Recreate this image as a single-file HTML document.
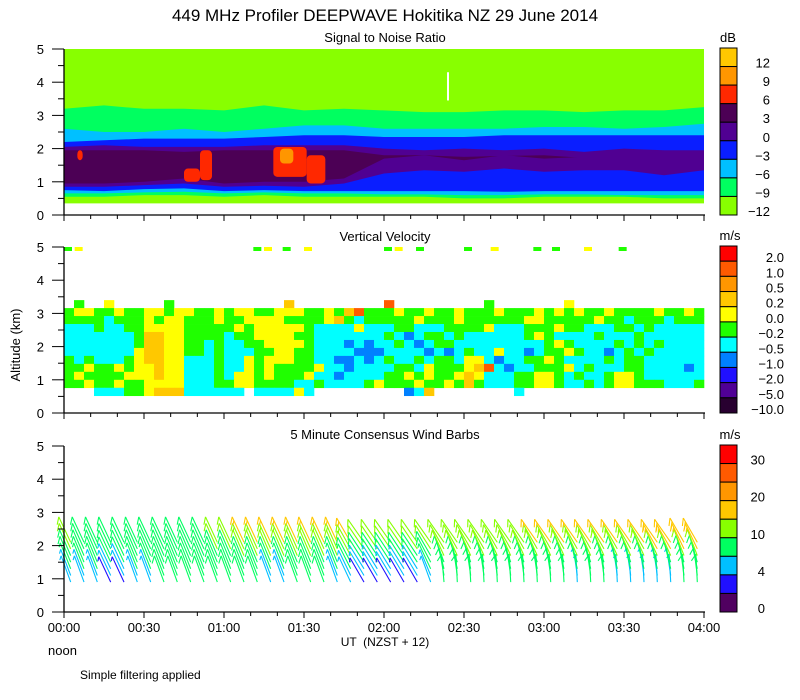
<!DOCTYPE html>
<html><head><meta charset="utf-8"><style>
html,body{margin:0;padding:0;background:#fff;}
svg{display:block;font-family:"Liberation Sans",sans-serif;}
</style></head><body>
<svg id="chart" width="800" height="700" viewBox="0 0 800 700" xmlns="http://www.w3.org/2000/svg">
<text x="385" y="21" font-size="17" text-anchor="middle" fill="#000">449 MHz Profiler DEEPWAVE Hokitika NZ 29 June 2014</text>
<text x="385" y="42" font-size="13" text-anchor="middle">Signal to Noise Ratio</text>
<text x="385" y="241" font-size="13" text-anchor="middle">Vertical Velocity</text>
<text x="385" y="439" font-size="13" text-anchor="middle">5 Minute Consensus Wind Barbs</text>
<text x="20" y="345" font-size="13" text-anchor="middle" transform="rotate(-90 20 345)">Altitude (km)</text>
<text x="385" y="646" font-size="12" text-anchor="middle" xml:space="preserve">UT  (NZST + 12)</text>
<text x="48" y="655" font-size="13">noon</text>
<text x="80" y="679" font-size="12">Simple filtering applied</text>
<g id="snr"></g>
<g id="vv"></g>
<g id="barbs"></g>
<g id="axes"></g>
<g id="cbars"></g>
</svg>
<script>
// ---------- data ----------
const snrTimes = [0,15,30,45,60,75,90,105,120,135,150,165,180,195,210,225,240];
const bLimeGreen = [0.55,0.55,0.6,0.6,0.55,0.6,0.55,0.55,0.55,0.55,0.5,0.5,0.55,0.55,0.55,0.5,0.5];
const bGreenCyan = [0.65,0.65,0.68,0.7,0.65,0.68,0.65,0.65,0.62,0.62,0.6,0.6,0.62,0.62,0.6,0.6,0.6];
const bCyanBlue = [0.75,0.72,0.78,0.8,0.72,0.75,0.72,0.72,0.72,0.72,0.72,0.7,0.72,0.72,0.72,0.72,0.72];
const bBluePurple = [0.85,0.85,0.9,0.95,0.85,0.88,0.85,0.95,1.25,1.35,1.3,1.4,1.3,1.35,1.35,1.2,1.35];
const bPurpleDark = [0.95,0.95,1.0,1.1,0.95,1.0,1.0,1.1,1.7,1.8,1.65,1.8,1.7,1.75,1.8,1.8,1.9];
const bDarkPurple = [1.95,1.95,1.95,1.9,1.95,1.95,1.95,1.95,1.8,1.8,1.75,1.78,1.8,1.72,1.75,1.78,1.85];
const bPurpleBlue = [2.05,2.1,2.05,2.05,2.05,2.1,2.1,2.1,2.0,1.95,2.0,1.95,2.0,1.9,2.0,1.95,1.95];
const bBlueCyan = [2.2,2.25,2.3,2.3,2.3,2.35,2.4,2.4,2.35,2.35,2.35,2.4,2.4,2.4,2.4,2.4,2.4];
const bCyanGreen = [2.6,2.5,2.5,2.6,2.5,2.6,2.7,2.7,2.6,2.6,2.6,2.6,2.65,2.65,2.6,2.65,2.75];
const bGreenLime = [3.2,3.3,3.2,3.2,3.15,3.3,3.15,3.2,3.15,3.1,3.1,3.15,3.15,3.1,3.15,3.15,3.25];
const blobStart = [45,51,78.5,91,81,5];
const blobEnd = [51,55.5,91,98,86,7];
const blobLow = [1.0,1.05,1.15,0.95,1.55,1.65];
const blobHigh = [1.4,1.95,2.05,1.8,2.0,1.95];
const blobLevel = [6,6,6,6,9,6];

const vvRows = [ // top (3.25-3.5) to bottom (0.5-0.75), 64 columns of 3.75 min
".g..y.....g...........O.........r.........g.......y.............",
"gyyggyggyygyyggygyyggyyyggygOrgggyggyggygggygggygygyggyggggyggyg",
"ggggcgggygyygggyggyyyyggggyOgcgggggygggyggggggyygggggyggcgggcggg",
"cccgccggyyyygggggygyyyyygccccycccggcccggggycccgggyggcccggcgccccc",
"cccccccgOOyyggggcggyyyyggcccccccgcBcggcgccccccgygccccgcccgcccccc",
"cccccccgOOyyggcgccggyyyygcccBcBccgcBcggcccccccccgygccccgcgcgcccc",
"cccccccyOOyyggcgcccggyyggccccBBBccccBcBcgccyccBcggygccBcgcgccccc",
"gcgcccgyOOyycccgccygyyyggccBBcBcgccgcggcyycBccggygccccgcggcccccc",
"ggyggygyyOyycccgccygyggggyccBccccggcygggyOrcBccgggycgcccggccccBc",
"gyggggyyyOyycccgcyygygggyccBccccggygyggyOycccggyygcgccgyygcccccc",
"ggyggyggyyyycccggyyggggccgccccgygggyggygOgcccggyygccgcgyygggcccg",
"...cccggyOOOcccccc.ccccyc.........BcO........c.................."
];
const vvCodes = {R:2.0,r:0.7,O:0.3,o:0.2,y:0.0,g:-0.2,c:-0.5,B:-1.0,b:-2.0,p:-5.0,k:-10.0};
const speckTimes = [0,4,71,75,82,90,120,124,132,150,160,176,183,195,208];
const speckLevel = [-0.2,0.0,-0.2,0.0,-0.2,0.0,-0.2,0.0,-0.2,-0.2,0.0,-0.2,-0.2,0.0,-0.2];

const barbTimes = [2.5,7.5,12.5,17.5,22.5,27.5,32.5,37.5,42.5,47.5,52.5,57.5,62.5,67.5,72.5,77.5,82.5,87.5,92.5,97.5,102.5,107.5,112.5,117.5,122.5,127.5,132.5,137.5,142.5,147.5,152.5,157.5,162.5,167.5,172.5,177.5,182.5,187.5,192.5,197.5,202.5,207.5,212.5,217.5,222.5,227.5,232.5,237.5];
const speedLow = [5,5,5,3,3,5,5,8,8,8,8,8,8,8,8,5,5,8,8,8,5,5,3,3,3,3,3,5,8,8,8,8,8,8,8,8,8,8,5,8,8,5,5,5,5,5,8,8];
const speedMid = [8,8,8,8,8,8,8,8,9,9,9,8,8,9,9,8,8,8,8,8,8,8,8,8,8,8,8,8,9,9,9,9,9,9,9,9,9,9,9,9,9,9,9,9,9,9,9,9];
const speedHigh = [12,9,9,9,9,9,9,9,9,9,9,12,12,17,17,17,17,17,17,17,17,17,12,12,12,12,12,12,12,12,12,12,12,12,12,17,17,17,17,17,17,17,17,17,18,18,18,18];
const tiltLow = [-20,-20,-20,-25,-25,-20,-20,-20,-20,-20,-20,-20,-20,-20,-20,-20,-20,-20,-20,-20,-20,-25,-30,-30,-30,-30,-30,-20,-5,-3,-3,-3,-3,-3,-3,-3,-3,-3,-3,-3,-3,-3,-3,-3,-3,-3,-3,-3];
const tiltHigh = [-25,-25,-25,-25,-25,-25,-25,-25,-25,-25,-25,-25,-25,-25,-25,-25,-25,-25,-25,-25,-25,-30,-35,-35,-35,-35,-35,-35,-35,-35,-35,-35,-35,-35,-35,-35,-35,-35,-35,-35,-35,-35,-35,-35,-35,-35,-30,-30];
const barbLevels = [0.9,1.1,1.3,1.5,1.7,1.9,2.1];

// ---------- scales ----------
const NS='http://www.w3.org/2000/svg';
const panels=[{top:49,bot:215},{top:247,bot:413},{top:446,bot:612}];
const X0=64,X1=704;
function xs(min){return X0+min*(X1-X0)/240;}
function ys(p,km){const P=panels[p];return P.bot-km*(P.bot-P.top)/5;}
function mk(tag,attrs,parent){const e=document.createElementNS(NS,tag);for(const k in attrs)e.setAttribute(k,attrs[k]);parent.appendChild(e);return e;}

const snrColors={12:'#ffc800',9:'#ff9600',6:'#ff2800',3:'#4c0055',0:'#500092',m3:'#0a1eff',m6:'#00c0ff',m9:'#00ff60',m12:'#88ff00'};

// ---------- SNR ----------
const snrG=document.getElementById('snr');
let r=mk('rect',{x:X0,y:ys(0,5),width:X1-X0,height:ys(0,0.35)-ys(0,5),fill:snrColors.m12},snrG);


const layers=[[bLimeGreen,snrColors.m9],[bGreenCyan,snrColors.m6],[bCyanBlue,snrColors.m3],[bBluePurple,snrColors[0]],[bPurpleDark,snrColors[3]],[bDarkPurple,snrColors[0]],[bPurpleBlue,snrColors.m3],[bBlueCyan,snrColors.m6],[bCyanGreen,snrColors.m9],[bGreenLime,snrColors.m12]];
layers.forEach((L,i)=>{
  let pts=snrTimes.map((t,j)=>xs(t).toFixed(1)+','+ys(0,L[0][j]).toFixed(1));
  pts.push(X1+','+ys(0,5));pts.push(X0+','+ys(0,5));
  const pg=mk('polygon',{points:pts.join(' '),fill:L[1]},snrG);
  
  
});
const blobCol={6:snrColors[6],9:snrColors[9],12:snrColors[12]};
blobStart.forEach((s,i)=>{
  const e=mk('rect',{x:xs(s),y:ys(0,blobHigh[i]),width:xs(blobEnd[i])-xs(s),height:ys(0,blobLow[i])-ys(0,blobHigh[i]),rx:4,fill:blobCol[blobLevel[i]]},snrG);
  
  
});
const wl=mk('line',{x1:xs(144),x2:xs(144),y1:ys(0,4.3),y2:ys(0,3.45),stroke:'#fff','stroke-width':2},snrG);



// ---------- Vertical velocity ----------
const vvColors=[[2.0,'#ff0000'],[0.7,'#ff5a00'],[0.5,'#ff9600'],[0.2,'#ffc800'],[0.0,'#ffff00'],[-0.2,'#20ff00'],[-0.5,'#00ffff'],[-1.0,'#0080ff'],[-2.0,'#2010ff'],[-5.0,'#500096'],[-10,'#280030']];
function vvColor(v){for(const c of vvColors){if(v>=c[0]-1e-9)return c[1];}return '#280030';}
const vvG=document.getElementById('vv');
vvRows.forEach((row,ri)=>{
  const zTop=3.4-ri*0.24, zBot=zTop-0.24;
  for(let ci=0;ci<64;ci++){
    const ch=row[ci]; if(!ch||ch==='.'||!(ch in vvCodes))continue;
    const c=mk('rect',{x:xs(ci*3.75),y:ys(1,zTop),width:xs((ci+1)*3.75)-xs(ci*3.75)+0.3,height:ys(1,zBot)-ys(1,zTop)+0.3,fill:vvColor(vvCodes[ch])},vvG);
    
    
  }
});
speckTimes.forEach((t,i)=>{
  const c=mk('rect',{x:xs(t),y:ys(1,5),width:xs(t+3)-xs(t),height:4,fill:vvColor(speckLevel[i])},vvG);
  
  
});

// ---------- Wind barbs ----------
const windBins=[[30,'#ff0000'],[25,'#ff5a00'],[20,'#ff9600'],[15,'#ffc800'],[10,'#88ff00'],[7,'#00ff60'],[4,'#00c0ff'],[2,'#2010ff'],[0,'#500060']];
function windColor(s){for(const b of windBins){if(s>=b[0])return b[1];}return '#500060';}
const bG=document.getElementById('barbs');
barbTimes.forEach((t,ci)=>{
  barbLevels.forEach((z,li)=>{
    const f=li/(barbLevels.length-1);
    let sp=f<0.5?speedLow[ci]+(speedMid[ci]-speedLow[ci])*f*2:speedMid[ci]+(speedHigh[ci]-speedMid[ci])*(f-0.5)*2;
    const th=(tiltLow[ci]+(tiltHigh[ci]-tiltLow[ci])*f)*Math.PI/180;
    const bx=xs(t), by=ys(2,z), Lh=28;
    const ux=Math.sin(th), uy=-Math.cos(th);
    const tx=bx+Lh*ux, ty=by+Lh*uy;
    const col=windColor(sp);
    const g=mk('g',{stroke:col,'stroke-width':1.1,fill:'none'},bG);
    
    
    mk('line',{x1:bx.toFixed(1),y1:by.toFixed(1),x2:tx.toFixed(1),y2:ty.toFixed(1)},g);
    const q=Math.round(sp/5)*5; let full=Math.floor(q/10), half=(q%10)>=5?1:0;
    const px=-Math.cos(th), py=-Math.sin(th), kx=-ux, ky=-uy;
    const fx=0.6*px+0.8*kx, fy=0.6*py+0.8*ky;
    let d=0;
    for(let k=0;k<full;k++){const sx=tx+kx*d, sy=ty+ky*d; mk('line',{x1:sx.toFixed(1),y1:sy.toFixed(1),x2:(sx+8*fx).toFixed(1),y2:(sy+8*fy).toFixed(1)},g); d+=4;}
    if(half){const sx=tx+kx*d, sy=ty+ky*d; mk('line',{x1:sx.toFixed(1),y1:sy.toFixed(1),x2:(sx+4.5*fx).toFixed(1),y2:(sy+4.5*fy).toFixed(1)},g);}
  });
});

// ---------- Axes ----------
const aG=document.getElementById('axes');
const yTickLabels=['0','1','2','3','4','5'];
const xTickLabels=['00:00','00:30','01:00','01:30','02:00','02:30','03:00','03:30','04:00'];
panels.forEach((P,p)=>{
  let l=mk('line',{x1:X0,x2:X0,y1:P.top,y2:P.bot,stroke:'#000','stroke-width':1.3},aG);
  
  
  l=mk('line',{x1:X0,x2:X1+1,y1:P.bot,y2:P.bot,stroke:'#000','stroke-width':1.3},aG);
  
  
  for(let k=0;k<=10;k++){
    const y=ys(p,k*0.5), major=k%2===0;
    mk('line',{x1:major?52:58,x2:X0,y1:y,y2:y,stroke:'#000','stroke-width':1},aG);
    if(major){const tx=mk('text',{x:44,y:y+5,'font-size':13,'text-anchor':'end'},aG);tx.textContent=yTickLabels[k/2];
      
      }
  }
  for(let m=0;m<=240;m+=10){
    const x=xs(m), major=m%30===0;
    mk('line',{x1:x,x2:x,y1:P.bot,y2:P.bot+(major?6:4),stroke:'#000','stroke-width':1},aG);
    if(p===2&&major){const tx=mk('text',{x:x,y:P.bot+20,'font-size':13,'text-anchor':'middle'},aG);tx.textContent=xTickLabels[m/30];
      
      }
  }
});

// ---------- Colorbars ----------
const cG=document.getElementById('cbars');
const snrBarColors=['#ffc800','#ff9600','#ff2800','#4c0055','#500092','#0a1eff','#00c0ff','#00ff60','#88ff00'];
const snrBarLabels=['12','9','6','3','0','\u22123','\u22126','\u22129','\u221212'];
const vvBarColors=['#ff0000','#ff5a00','#ff9600','#ffc800','#ffff00','#20ff00','#00ffff','#0080ff','#2010ff','#500096','#280030'];
const vvBarLabels=['2.0','1.0','0.5','0.2','0.0','\u22120.2','\u22120.5','\u22121.0','\u22122.0','\u22125.0','\u221210.0'];
const windBarColors=['#ff0000','#ff5a00','#ff9600','#ffc800','#88ff00','#00ff60','#00c0ff','#2010ff','#500060'];
const windBarLabels=['30','','20','','10','','4','','0'];
function cbar(top,bot,colors,labels,labelX,unit,unitX,name){
  const h=(bot-top)/colors.length;
  colors.forEach((c,i)=>{
    const e=mk('rect',{x:720,y:top+i*h,width:17,height:h,fill:c,stroke:'#000','stroke-width':1},cG);
    
    
    if(labels[i]){const t=mk('text',{x:labelX,y:top+(i+1)*h+1,'font-size':13,'text-anchor':'end'},cG);t.textContent=labels[i];
      
      }
  });
  const u=mk('text',{x:unitX,y:top-6,'font-size':13,'text-anchor':'middle'},cG);u.textContent=unit;
  
  
}
cbar(48,215,snrBarColors,snrBarLabels,770,'dB',728,'snr-colorbar');
cbar(246,413,vvBarColors,vvBarLabels,784,'m/s',730,'vv-colorbar');
cbar(445,612,windBarColors,windBarLabels,765,'m/s',730,'wind-colorbar');
</script>
</body></html>
